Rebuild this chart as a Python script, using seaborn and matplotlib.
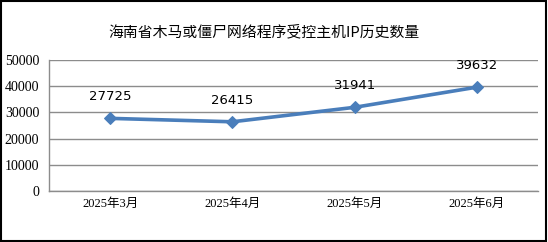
import matplotlib
matplotlib.use("Agg")
import matplotlib.pyplot as plt
import seaborn as sns
import pandas as pd
from matplotlib.patches import Rectangle

months = ["2025年3月", "2025年4月", "2025年5月", "2025年6月"]
counts = [27725, 26415, 31941, 39632]
yticks = [0, 10000, 20000, 30000, 40000, 50000]
title = "海南省木马或僵尸网络程序受控主机IP历史数量"

sns.set_theme(style="white")
plt.rcParams['font.family'] = ['Liberation Serif', 'Noto Sans CJK SC', 'DejaVu Sans']

df = pd.DataFrame({"month": months, "count": counts})

fig = plt.figure(figsize=(5.48, 2.42), dpi=100)
ax = fig.add_axes([49/548, 1-191/242, (538-49)/548, (191-60)/242])

sns.lineplot(data=df, x="month", y="count", ax=ax, color="#4A7EBB",
             linewidth=2.6, marker="D", markersize=6, markeredgecolor="#4A7EBB",
             sort=False)

ax.set_xlim(-0.5, 3.5)
ax.set_ylim(0, 50000)
ax.set_yticks(yticks)
ax.set_yticklabels([str(v) for v in yticks], fontsize=10, color="black",
                   fontfamily=['Liberation Serif'])
ax.set_xticks(range(len(months)))
ax.set_xticklabels(months, fontsize=9, color="black",
                   fontfamily=['Liberation Serif', 'Noto Sans CJK SC'])
ax.set_xlabel("")
ax.set_ylabel("")
ax.tick_params(axis='y', length=0, pad=7)
ax.tick_params(axis='x', length=0, pad=5)
ax.grid(axis='y', color="#8C8C8C", linewidth=1.0)
ax.set_axisbelow(True)
for s in ["top", "right"]:
    ax.spines[s].set_visible(False)
for s in ["left", "bottom"]:
    ax.spines[s].set_color("#8C8C8C")
    ax.spines[s].set_linewidth(1.0)

for i, v in enumerate(counts):
    ax.annotate(str(v), (i, v), xytext=(0, 11), textcoords="offset points",
                ha="center", va="bottom", fontsize=9.5, color="black",
                fontfamily="DejaVu Sans")

fig.text(264/548, 1-32/242, title, ha="center", va="center", fontsize=10.7,
         fontfamily=['Noto Sans CJK SC', 'Liberation Serif'], color="black")

fig.patches.append(Rectangle((0.002, 0.004), 0.994, 0.99, transform=fig.transFigure,
                             fill=False, edgecolor="black", linewidth=1.5))

fig.savefig("out.png", dpi=100)
